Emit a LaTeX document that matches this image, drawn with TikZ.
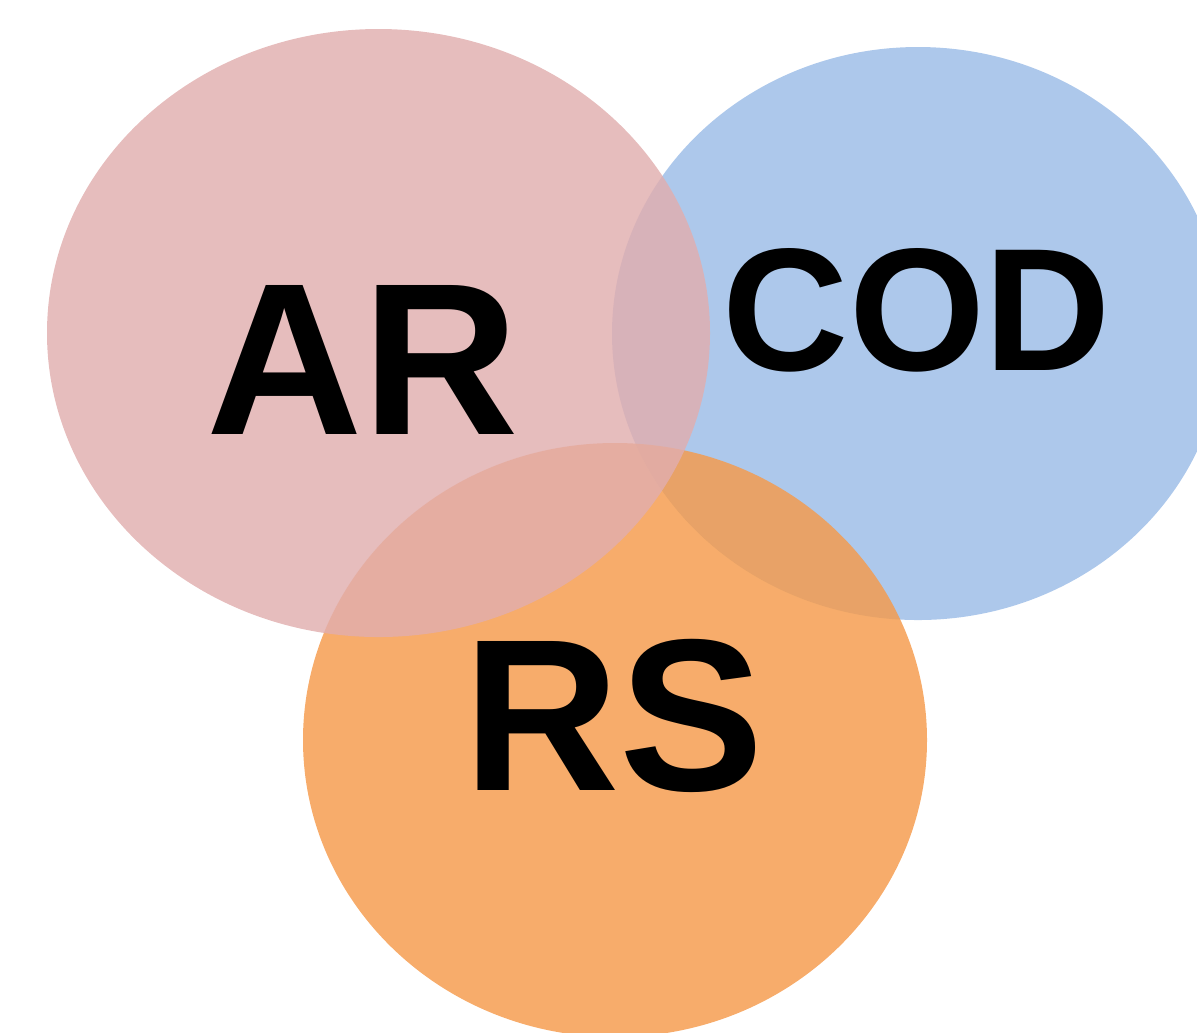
\documentclass[tikz,border=0pt]{standalone}
\usepackage{fontspec}
\setmainfont{Liberation Sans}
\usepackage{xcolor}
\definecolor{codblue}{RGB}{173,200,235}
\definecolor{rsorange}{RGB}{245,154,74}
\definecolor{arpink}{RGB}{225,174,174}

\begin{document}
\begin{tikzpicture}[x=0.01cm, y=-0.01cm,
    setlabel/.style={font=\bfseries\fontsize{61.6}{70}\selectfont, inner sep=0pt}]
        \useasboundingbox (0,0) rectangle (1197,1032);
        \fill[codblue] (918,333.5) ellipse (306 and 286.5);
        \fill[rsorange, fill opacity=0.82] (615,740) ellipse (312 and 297);
        \fill[arpink, fill opacity=0.82] (378.5,333) ellipse (331.5 and 304);

        \node[setlabel] (ar) at (363,360) {AR};
        \node[setlabel, font=\bfseries\fontsize{49.7}{56}\selectfont] (cod) at (917,310) {COD};
        \node[setlabel] (rs) at (614,716) {RS};
    \end{tikzpicture}
\end{document}
